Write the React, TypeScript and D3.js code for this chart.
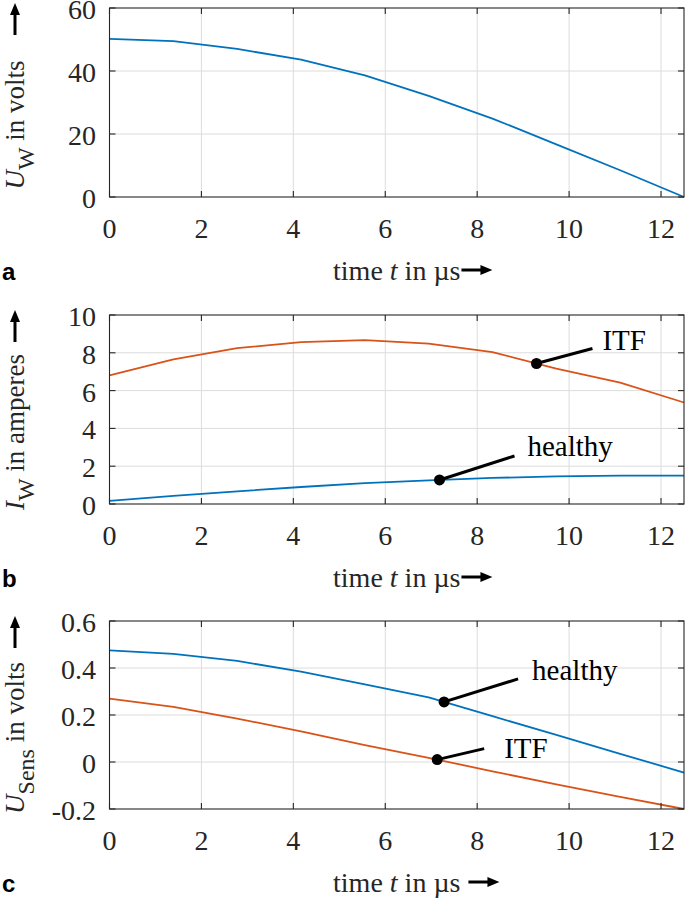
import React, { useEffect, useRef } from 'react';
import * as d3 from 'd3';

// time samples (µs)
const T = [0, 1.389, 2.778, 4.167, 5.556, 6.944, 8.333, 9.722, 11.111, 12.5];
// panel a: U_W in volts
const uW = [50.2, 49.5, 47.0, 43.6, 38.6, 32.1, 24.9, 16.7, 8.5, 0];
// panel b: I_W in amperes
const iW_itf = [6.81, 7.65, 8.25, 8.56, 8.67, 8.49, 8.04, 7.16, 6.42, 5.37];
const iW_healthy = [0.17, 0.43, 0.67, 0.9, 1.1, 1.25, 1.38, 1.46, 1.5, 1.5];
// panel c: U_Sens in volts
const uS_healthy = [0.475, 0.46, 0.43, 0.385, 0.33, 0.275, 0.195, 0.115, 0.035, -0.045];
const uS_itf = [0.27, 0.235, 0.185, 0.13, 0.072, 0.018, -0.04, -0.095, -0.148, -0.2];

const xTicks = [0, 2, 4, 6, 8, 10, 12];
const yTicksA = [0, 20, 40, 60];
const yTicksB = [0, 2, 4, 6, 8, 10];
const yTicksC = [-0.2, 0, 0.2, 0.4, 0.6];

const BLUE = '#0072BD';
const ORANGE = '#D95319';
const AX = '#262626';
const SERIF = '"Liberation Serif", "Times New Roman", Times, serif';

type Ann = { s: number; t: number; text: string; lx: number; ly: number; tx: number; ty: number };
type Panel = {
  top: number; bottom: number; domain: [number, number]; ticks: number[];
  fmt: (v: number) => string;
  series: { values: number[]; color: string }[];
  sym: string; sub: string; unit: string; letter: string;
  arrowGap: number; anns: Ann[];
};

const panels: Panel[] = [
  {
    top: 8, bottom: 197, domain: [0, 60], ticks: yTicksA, fmt: (v) => String(v),
    series: [{ values: uW, color: BLUE }],
    sym: 'U', sub: 'W', unit: ' in volts', letter: 'a', arrowGap: 1, anns: [],
  },
  {
    top: 315, bottom: 504, domain: [0, 10], ticks: yTicksB, fmt: (v) => String(v),
    series: [{ values: iW_itf, color: ORANGE }, { values: iW_healthy, color: BLUE }],
    sym: 'I', sub: 'W', unit: ' in amperes', letter: 'b', arrowGap: 1,
    anns: [
      { s: 0, t: 9.29, text: 'ITF', lx: 56, ly: -15, tx: 66, ty: -14 },
      { s: 1, t: 7.18, text: 'healthy', lx: 75, ly: -24, tx: 88, ty: -24 },
    ],
  },
  {
    top: 621, bottom: 809, domain: [-0.2, 0.6], ticks: yTicksC,
    fmt: (v) => (Math.abs(v) < 1e-9 ? '0' : String(Math.round(v * 10) / 10)),
    series: [{ values: uS_healthy, color: BLUE }, { values: uS_itf, color: ORANGE }],
    sym: 'U', sub: 'Sens', unit: ' in volts', letter: 'c', arrowGap: 8,
    anns: [
      { s: 0, t: 7.28, text: 'healthy', lx: 74, ly: -23, tx: 88, ty: -22 },
      { s: 1, t: 7.13, text: 'ITF', lx: 47, ly: -11, tx: 67, ty: -2 },
    ],
  },
];

export default function App() {
  const ref = useRef<SVGSVGElement>(null);
  useEffect(() => {
    const svg = d3.select(ref.current);
    svg.selectAll('*').remove();
    const left = 109.5, right = 684;
    const x = d3.scaleLinear().domain([0, 12.5]).range([left, right]);

    panels.forEach((p) => {
      const y = d3.scaleLinear().domain(p.domain).range([p.bottom, p.top]);
      const g = svg.append('g');
      // grid
      xTicks.forEach((t) => {
        if (t === 0) return;
        g.append('line').attr('x1', x(t)).attr('x2', x(t)).attr('y1', p.top).attr('y2', p.bottom)
          .attr('stroke', '#dcdcdc').attr('stroke-width', 1);
      });
      p.ticks.forEach((v) => {
        if (v === p.domain[0] || v === p.domain[1]) return;
        g.append('line').attr('x1', left).attr('x2', right).attr('y1', y(v)).attr('y2', y(v))
          .attr('stroke', '#dcdcdc').attr('stroke-width', 1);
      });
      // series
      const line = d3.line<number>().x((_, i) => x(T[i])).y((v) => y(v));
      p.series.forEach((s) => {
        g.append('path').attr('d', line(s.values) as string).attr('fill', 'none')
          .attr('stroke', s.color).attr('stroke-width', 1.8).attr('stroke-linejoin', 'round');
      });
      // box
      g.append('rect').attr('x', left).attr('y', p.top).attr('width', right - left)
        .attr('height', p.bottom - p.top).attr('fill', 'none').attr('stroke', AX).attr('stroke-width', 1.1);
      // ticks
      const tl = 6;
      xTicks.forEach((t) => {
        g.append('line').attr('x1', x(t)).attr('x2', x(t)).attr('y1', p.bottom).attr('y2', p.bottom - tl)
          .attr('stroke', AX).attr('stroke-width', 1.1);
        g.append('line').attr('x1', x(t)).attr('x2', x(t)).attr('y1', p.top).attr('y2', p.top + tl)
          .attr('stroke', AX).attr('stroke-width', 1.1);
        g.append('text').attr('x', x(t)).attr('y', p.bottom + 41).attr('text-anchor', 'middle')
          .style('font-family', SERIF).attr('font-size', 28).attr('fill', AX).text(String(t));
      });
      p.ticks.forEach((v) => {
        g.append('line').attr('x1', left).attr('x2', left + tl).attr('y1', y(v)).attr('y2', y(v))
          .attr('stroke', AX).attr('stroke-width', 1.1);
        g.append('line').attr('x1', right).attr('x2', right - tl).attr('y1', y(v)).attr('y2', y(v))
          .attr('stroke', AX).attr('stroke-width', 1.1);
        g.append('text').attr('x', 96).attr('y', y(v) + 11).attr('text-anchor', 'end')
          .style('font-family', SERIF).attr('font-size', 28).attr('fill', AX).text(p.fmt(v));
      });
      // y label (rotated)
      const cy = p.top + 117;
      const yl = g.append('text').attr('transform', `translate(24,${cy}) rotate(-90)`)
        .attr('text-anchor', 'middle').style('font-family', SERIF).attr('font-size', 27).attr('fill', AX);
      yl.append('tspan').attr('font-style', 'italic').text(p.sym);
      yl.append('tspan').attr('dy', 10).attr('font-size', 24).text(p.sub);
      yl.append('tspan').attr('dy', -10).text(p.unit);
      // vertical arrow
      const ax = 15, tip = p.top - 5, len = 32;
      g.append('line').attr('x1', ax).attr('x2', ax).attr('y1', tip + 10).attr('y2', tip + len)
        .attr('stroke', '#000').attr('stroke-width', 3);
      g.append('path').attr('d', `M${ax},${tip} L${ax - 5},${tip + 12} L${ax + 5},${tip + 12} Z`).attr('fill', '#000');
      // x label
      const xl = g.append('text').attr('x', (left + right) / 2).attr('y', p.bottom + 83)
        .attr('text-anchor', 'middle').style('font-family', SERIF).attr('font-size', 28).attr('fill', AX);
      xl.append('tspan').text('time ');
      xl.append('tspan').attr('font-style', 'italic').text('t');
      xl.append('tspan').text(' in µs');
      const node = xl.node() as SVGTextElement;
      const bb = node.getBBox();
      const hx = bb.x + bb.width + p.arrowGap, hy = p.bottom + 83 - 10;
      g.append('line').attr('x1', hx).attr('x2', hx + 20).attr('y1', hy).attr('y2', hy)
        .attr('stroke', '#000').attr('stroke-width', 3);
      g.append('path').attr('d', `M${hx + 31},${hy} L${hx + 19},${hy - 5} L${hx + 19},${hy + 5} Z`).attr('fill', '#000');
      // panel letter
      g.append('text').attr('x', 2).attr('y', p.bottom + 83).style('font-family', '"Liberation Sans", Arial, sans-serif')
        .attr('font-weight', 'bold').attr('font-size', 24).attr('fill', '#000').text(p.letter);
      // annotations
      p.anns.forEach((a) => {
        const vals = p.series[a.s].values;
        const v = d3.scaleLinear().domain(T).range(vals)(a.t);
        const dx = x(a.t), dy = y(v);
        g.append('line').attr('x1', dx).attr('y1', dy).attr('x2', dx + a.lx).attr('y2', dy + a.ly)
          .attr('stroke', '#000').attr('stroke-width', 3);
        g.append('circle').attr('cx', dx).attr('cy', dy).attr('r', 5.5).attr('fill', '#000');
        g.append('text').attr('x', dx + a.tx).attr('y', dy + a.ty).style('font-family', SERIF)
          .attr('font-size', 29).attr('fill', '#000').text(a.text);
      });
    });
  }, []);
  return <svg ref={ref} width={685} height={898} style={{ position: 'absolute', left: 0, top: 0, background: '#fff' }} />;
}
